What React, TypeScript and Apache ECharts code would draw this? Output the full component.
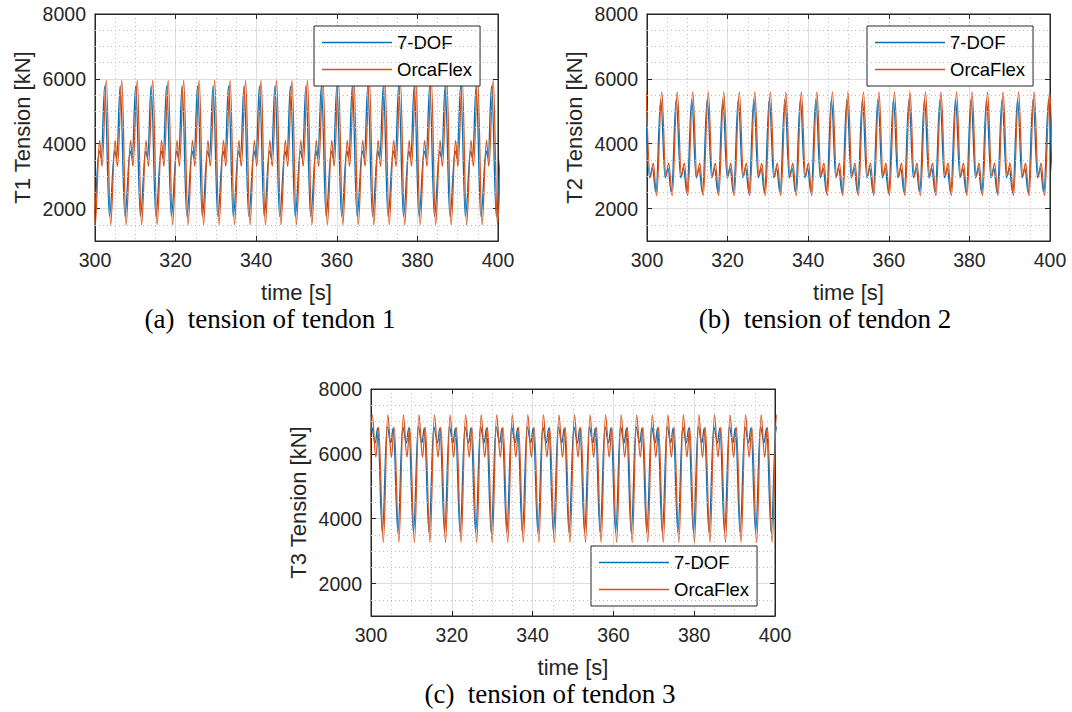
import React, { useEffect, useRef } from 'react';
import * as echarts from 'echarts';

const FONT = '"Liberation Sans", Arial, Helvetica, sans-serif';
const SERIF = '"Liberation Serif", "Times New Roman", serif';
const AXIS_COLOR = '#262626';
const BLUE = '#0072BD';
const ORANGE = '#D95319';

// ---- axes / labels ----
const timeMin = 300;
const timeMax = 400;
const timeStep = 20;
const tensionMin = 1000;
const tensionMax = 8000;
const tensionMinorGrid = [1500, 2500, 3000, 3500, 4500, 5000, 5500, 6500, 7000, 7500];
const seriesNames = ['7-DOF', 'OrcaFlex'];
const seriesColors = [BLUE, ORANGE];
const xTitle = 'time [s]';
const yTitles = ['T1 Tension [kN]', 'T2 Tension [kN]', 'T3 Tension [kN]'];
const captions = ['(a)\u00a0 tension of tendon 1', '(b)\u00a0 tension of tendon 2', '(c)\u00a0 tension of tendon 3'];

// ---- tendon 1: cycle start times (OrcaFlex troughs) and keypoints of a cycle ----
const t1CycleStarts = [296.2, 300.04, 303.88, 307.72, 311.56, 315.4, 319.24, 323.08, 326.92, 330.76, 334.6, 338.44, 342.28, 346.12, 349.96, 353.8, 357.64, 361.48, 365.32, 369.16, 373.0, 376.84, 380.68, 384.52, 388.36, 392.2, 396.04, 399.88];
const t1OrcaOffsets = [0, 1.1, 1.7, 2.77];
const t1OrcaLevels = [1500, 4100, 3300, 5950];
const t1DofOffsets = [-0.3, 1.0, 1.5, 2.37];
const t1DofLevels = [1760, 3770, 3560, 5780];

// ---- tendon 2: cycle start times (OrcaFlex peaks) ----
const t2CycleStarts = [299.8, 303.65, 307.5, 311.35, 315.2, 319.05, 322.9, 326.75, 330.6, 334.45, 338.3, 342.15, 346.0, 349.85, 353.7, 357.55, 361.4, 365.25, 369.1, 372.95, 376.8, 380.65, 384.5, 388.35, 392.2, 396.05, 399.9];
const t2OrcaOffsets = [0, 1.04, 1.74, 2.6];
const t2OrcaLevels = [5600, 2990, 3400, 2400];
const t2DofOffsets = [-0.25, 0.85, 1.55, 2.4];
const t2DofLevels = [5370, 2950, 3250, 2480];

// ---- tendon 3: cycle start times (OrcaFlex troughs) ----
const t3CycleStarts = [299.2, 303.05, 306.9, 310.75, 314.6, 318.45, 322.3, 326.15, 330.0, 333.85, 337.7, 341.55, 345.4, 349.25, 353.1, 356.95, 360.8, 364.65, 368.5, 372.35, 376.2, 380.05, 383.9, 387.75, 391.6, 395.45, 399.3];
const t3OrcaOffsets = [0, 1.1, 2.0, 2.68];
const t3OrcaLevels = [3270, 7200, 5900, 6820];
const t3DofOffsets = [-0.25, 0.95, 1.85, 2.45];
const t3DofLevels = [3580, 6830, 6340, 6800];

function buildCurve(starts: number[], offsets: number[], levels: number[]) {
  const pts: number[][] = [];
  starts.forEach((s) => {
    offsets.forEach((o, i) => {
      pts.push([Math.round((s + o) * 100) / 100, levels[i]]);
    });
  });
  return pts;
}

const panelData = [
  { dof: buildCurve(t1CycleStarts, t1DofOffsets, t1DofLevels), orca: buildCurve(t1CycleStarts, t1OrcaOffsets, t1OrcaLevels) },
  { dof: buildCurve(t2CycleStarts, t2DofOffsets, t2DofLevels), orca: buildCurve(t2CycleStarts, t2OrcaOffsets, t2OrcaLevels) },
  { dof: buildCurve(t3CycleStarts, t3DofOffsets, t3DofLevels), orca: buildCurve(t3CycleStarts, t3OrcaOffsets, t3OrcaLevels) },
];

const layout = [
  { grid: { left: 95, top: 14, width: 403, height: 227 }, legend: { left: 314, top: 26 }, caption: { x: 270, y: 319 } },
  { grid: { left: 647, top: 14, width: 403, height: 227 }, legend: { left: 867, top: 26 }, caption: { x: 825, y: 319 } },
  { grid: { left: 371, top: 389, width: 404, height: 227 }, legend: { left: 591, top: 546 }, caption: { x: 550, y: 694 } },
];

function buildOption() {
  const grid: any[] = [];
  const xAxis: any[] = [];
  const yAxis: any[] = [];
  const series: any[] = [];
  const legend: any[] = [];
  const graphic: any[] = [];

  layout.forEach((p) => {
    grid.push({
      ...p.grid,
      show: true,
      borderColor: AXIS_COLOR,
      borderWidth: 1,
      backgroundColor: '#ffffff',
      containLabel: false,
      outerBoundsMode: 'none',
    });
  });

  layout.forEach((p, i) => {
    xAxis.push({
      type: 'value',
      gridIndex: i,
      position: 'bottom',
      min: timeMin,
      max: timeMax,
      interval: timeStep,
      axisLine: { show: true, onZero: false, lineStyle: { color: AXIS_COLOR, width: 1 } },
      axisTick: { show: true, inside: true, length: 5, lineStyle: { color: AXIS_COLOR, width: 1 } },
      axisLabel: { show: true, margin: 9, color: AXIS_COLOR, fontSize: 19.5, fontFamily: FONT, formatter: (v: number) => String(v) },
      splitLine: { show: true, lineStyle: { color: '#dedede', width: 1 } },
      minorTick: { show: false, splitNumber: 4 },
      minorSplitLine: { show: true, lineStyle: { color: '#bcbcbc', width: 1, type: [1, 3] } },
      name: xTitle,
      nameLocation: 'middle',
      nameGap: 40,
      nameTextStyle: { color: AXIS_COLOR, fontSize: 22, fontFamily: FONT },
    });
  });
  layout.forEach((p, i) => {
    xAxis.push({
      type: 'value',
      gridIndex: i,
      position: 'top',
      min: timeMin,
      max: timeMax,
      interval: timeStep,
      axisLine: { show: true, onZero: false, lineStyle: { color: AXIS_COLOR, width: 1 } },
      axisTick: { show: true, inside: true, length: 5, lineStyle: { color: AXIS_COLOR, width: 1 } },
      axisLabel: { show: false },
      splitLine: { show: false },
    });
  });
  layout.forEach((p, i) => {
    yAxis.push({
      type: 'value',
      gridIndex: i,
      position: 'left',
      min: tensionMin,
      max: tensionMax,
      splitNumber: 4,
      axisLine: { show: true, onZero: false, lineStyle: { color: AXIS_COLOR, width: 1 } },
      axisTick: { show: true, inside: true, length: 5, lineStyle: { color: AXIS_COLOR, width: 1 } },
      axisLabel: {
        show: true,
        showMinLabel: false,
        margin: 9,
        color: AXIS_COLOR,
        fontSize: 19.5,
        fontFamily: FONT,
        formatter: (v: number) => String(v),
      },
      splitLine: { show: true, lineStyle: { color: '#dedede', width: 1 } },
      name: yTitles[i],
      nameLocation: 'middle',
      nameGap: 62,
      nameTextStyle: { color: AXIS_COLOR, fontSize: 22, fontFamily: FONT },
    });
  });
  layout.forEach((p, i) => {
    yAxis.push({
      type: 'value',
      gridIndex: i,
      position: 'right',
      min: tensionMin,
      max: tensionMax,
      splitNumber: 4,
      axisLine: { show: true, onZero: false, lineStyle: { color: AXIS_COLOR, width: 1 } },
      axisTick: { show: true, inside: true, length: 5, lineStyle: { color: AXIS_COLOR, width: 1 } },
      axisLabel: { show: false },
      splitLine: { show: false },
    });
  });

  layout.forEach((p, i) => {
    series.push({
      type: 'line',
      xAxisIndex: i,
      yAxisIndex: i,
      data: [],
      z: 1,
      silent: true,
      markLine: {
        silent: true,
        symbol: ['none', 'none'],
        label: { show: false },
        lineStyle: { color: '#bcbcbc', width: 1, type: [1, 3] },
        emphasis: { disabled: true },
        data: tensionMinorGrid.map((v) => ({ yAxis: v })),
      },
    });
    const curves = [panelData[i].dof, panelData[i].orca];
    curves.forEach((data, s) => {
      series.push({
        name: seriesNames[s],
        type: 'line',
        xAxisIndex: i,
        yAxisIndex: i,
        data,
        showSymbol: false,
        symbol: 'none',
        smooth: 0.38,
        smoothMonotone: 'x',
        clip: true,
        z: 2 + s,
        lineStyle: { color: seriesColors[s], width: 1.3 },
        itemStyle: { color: seriesColors[s] },
        emphasis: { disabled: true },
      });
    });

    legend.push({
      data: seriesNames.map((n) => ({ name: n, icon: 'rect' })),
      orient: 'vertical',
      left: p.legend.left,
      top: p.legend.top,
      padding: [6, 8, 6, 8],
      itemWidth: 70,
      itemHeight: 1.4,
      itemGap: 6,
      backgroundColor: '#ffffff',
      borderColor: AXIS_COLOR,
      borderWidth: 1,
      borderRadius: 0,
      selectedMode: false,
      textStyle: { fontSize: 18.5, fontFamily: FONT, color: '#000000', lineHeight: 21 },
    });

    graphic.push({
      type: 'text',
      x: p.caption.x,
      y: p.caption.y,
      style: {
        text: captions[i],
        font: '27px ' + SERIF,
        fill: '#000000',
        align: 'center',
        verticalAlign: 'middle',
        textAlign: 'center',
        textVerticalAlign: 'middle',
      },
    });
  });

  return {
    animation: false,
    backgroundColor: '#ffffff',
    grid,
    xAxis,
    yAxis,
    series,
    legend,
    graphic,
  };
}

export default function App() {
  const ref = useRef<HTMLDivElement>(null);
  useEffect(() => {
    if (!ref.current) return;
    const chart = echarts.init(ref.current, null, { renderer: 'svg' });
    chart.setOption(buildOption() as any);
    return () => chart.dispose();
  }, []);
  return (
    <div
      ref={ref}
      style={{ position: 'absolute', left: 0, top: 0, width: 1072, height: 712, background: '#fff' }}
    />
  );
}
